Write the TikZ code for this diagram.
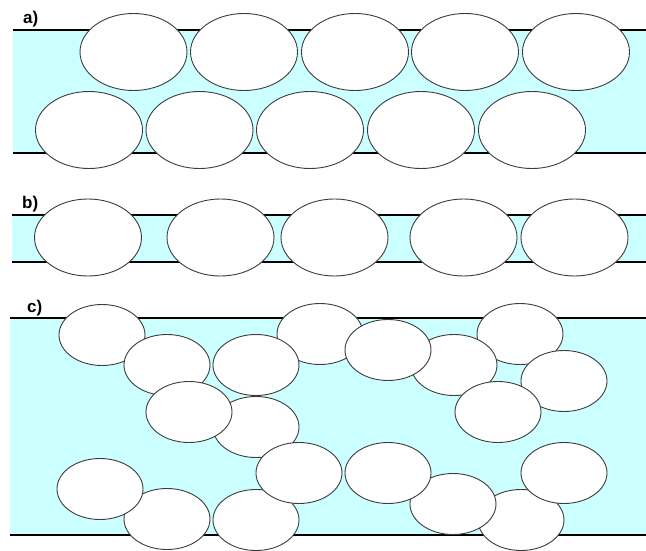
\documentclass[tikz,border=0pt]{standalone}
\usepackage{fontspec}
\setmainfont{Liberation Sans}
\usetikzlibrary{shapes.geometric}
\definecolor{pore}{HTML}{CCFFFF}
\definecolor{rim}{HTML}{3C3C3C}
\tikzset{
  grain/.style={ellipse,draw=rim,fill=white,line width=.9pt,inner sep=0pt,minimum width=107pt,minimum height=77pt},
  sgrain/.style={grain,minimum width=86pt,minimum height=61pt},
  band/.style={fill=pore},
  wall/.style={line width=2pt,black},
  lab/.style={font=\fontsize{17}{20}\selectfont\bfseries,anchor=base west,inner sep=0pt}
}
\begin{document}
\begin{tikzpicture}[x=1pt,y=-1pt]
  \useasboundingbox (0,0) rectangle (646,551);
  % a) two packed rows
  \fill[band] (13,30) rectangle (646,153);
  \draw[wall] (13,30) -- (646,30);
  \draw[wall] (13,153) -- (646,153);
  \foreach \x [count=\i] in {133.5,244,355,465,576}
    \node[grain] (at\i) at (\x,52) {};
  \foreach \x [count=\i] in {89,199.5,310,421,532}
    \node[grain] (ab\i) at (\x,130) {};
  \node[lab] (la) at (23,23.5) {a)};
  % b) single row
  \fill[band] (12,215) rectangle (646,262);
  \draw[wall] (12,215) -- (646,215);
  \draw[wall] (12,262) -- (646,262);
  \foreach \x [count=\i] in {88,220.5,334.5,463.5,574.5}
    \node[grain] (b\i) at (\x,237.5) {};
  \node[lab] (lb) at (22,208) {b)};
  % c) loose grains, listed from back to front
  \fill[band] (10,318) rectangle (646,535);
  \draw[wall] (10,318) -- (646,318);
  \draw[wall] (10,535) -- (646,535);
  \foreach \n/\x/\y in {10/320/334,1/102/335,2/167/365,3/256/365,5/256/427,
      4/189/412,9/256/520,6/299/473,13/520/334,12/454/365,11/388/350,
      14/564/381,15/498/412,8/167/519,7/100/489,18/521/520,17/453/504,
      16/388/473,19/564/473}
    \node[sgrain] (c\n) at (\x,\y) {};
  \node[lab] (lc) at (27,312) {c)};
\end{tikzpicture}
\end{document}
